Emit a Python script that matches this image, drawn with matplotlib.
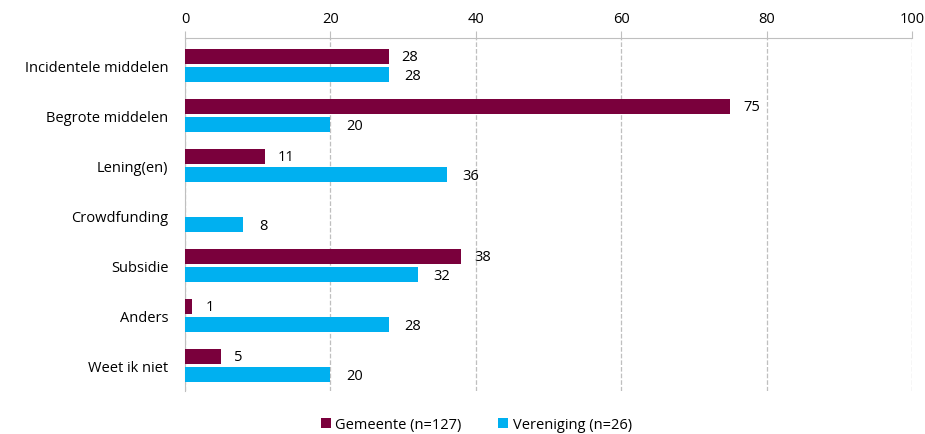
import matplotlib.pyplot as plt
import numpy as np

categorieen = ["Incidentele middelen", "Begrote middelen", "Lening(en)", "Crowdfunding",
               "Subsidie", "Anders", "Weet ik niet"]
gemeente = [28, 75, 11, 0, 38, 1, 5]
vereniging = [28, 20, 36, 8, 32, 28, 20]
labels_reeks = ["Gemeente (n=127)", "Vereniging (n=26)"]

plt.rcParams['font.family'] = ['Open Sans', 'DejaVu Sans']

fig = plt.figure(figsize=(9.25, 4.35), dpi=100)
ax = fig.add_axes([0.2, 0.1, 0.786, 0.81])

y = np.arange(len(categorieen))
h = 0.31
kleur_g = '#7A003C'
kleur_v = '#00B0F0'

bars_g = ax.barh(y - 0.18, gemeente, height=h, color=kleur_g, label=labels_reeks[0], zorder=3)
bars_v = ax.barh(y + 0.18, vereniging, height=h, color=kleur_v, label=labels_reeks[1], zorder=3)

# waarden naast de balken
for b, v in zip(bars_g, gemeente):
    if v > 0:
        ax.text(v + 1.8, b.get_y() + b.get_height() / 2, str(v), va='center', ha='left', fontsize=10.5)
for b, v in zip(bars_v, vereniging):
    ax.text(v + 2.2, b.get_y() + b.get_height() / 2 + 0.02, str(v), va='center', ha='left', fontsize=10.5)

ax.set_xlim(0, 100)
ax.set_ylim(len(categorieen) - 0.5, -0.55)
ax.set_xticks([0, 20, 40, 60, 80, 100])
ax.set_yticks(y)
ax.set_yticklabels(categorieen, fontsize=10.5)
ax.xaxis.tick_top()
ax.tick_params(axis='x', direction='out', length=5, color='#BFBFBF', labelsize=10.5, pad=4)
ax.tick_params(axis='y', length=0, pad=12)

ax.grid(axis='x', linestyle='--', color='#BFBFBF', linewidth=0.9, zorder=0)
for s in ['right', 'bottom']:
    ax.spines[s].set_visible(False)
ax.spines['top'].set_color('#BFBFBF')
ax.spines['left'].set_color('#BFBFBF')

fig.legend(loc='lower center', bbox_to_anchor=(0.515, -0.025), ncol=2, frameon=False,
           fontsize=10.5, handlelength=0.7, handleheight=0.7, handletextpad=0.3, columnspacing=2.5)

plt.savefig("out.png", dpi=100)
plt.close()
